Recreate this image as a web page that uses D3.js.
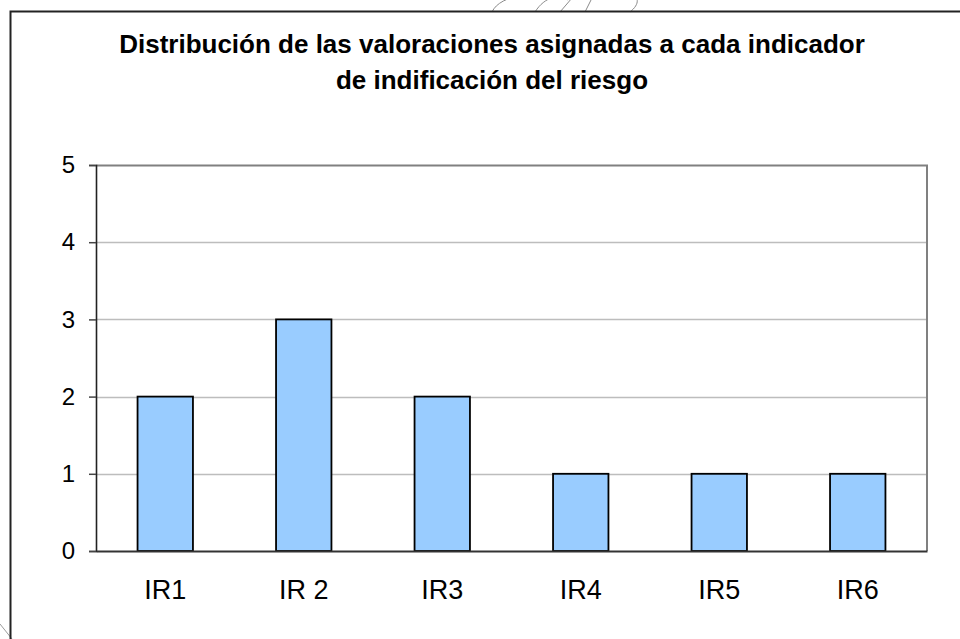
<!DOCTYPE html>
<html>
<head>
<meta charset="utf-8">
<script src="https://cdn.jsdelivr.net/npm/d3@7"></script>
<style>
  body { margin: 0; background: #fff; }
  svg { display: block; font-family: Arial, "Liberation Sans", sans-serif; }
</style>
</head>
<body>
<div id="chart"></div>
<script>
// data
const categories = ['IR1', 'IR 2', 'IR3', 'IR4', 'IR5', 'IR6'];
const values = [2, 3, 2, 1, 1, 1];
const yTicks = [0, 1, 2, 3, 4, 5];
const titleLines = [
  'Distribución de las valoraciones asignadas a cada indicador',
  'de indificación del riesgo'
];

const width = 960, height = 639;
const margin = {top: 165, right: 33, bottom: 88, left: 96};

const svg = d3.select('#chart')
  .append('svg')
  .attr('width', width)
  .attr('height', height);

// faint scribble at the top, part of the scanned page
const scrib = svg.append('g')
  .attr('fill', 'none')
  .attr('stroke', '#8a8a8a')
  .attr('stroke-width', 1);
scrib.append('path').attr('d', 'M492,12 C500,-6 540,-10 560,-2');
scrib.append('path').attr('d', 'M535,12 C545,-4 560,-6 568,0');
scrib.append('path').attr('d', 'M560,12 L572,-2');
scrib.append('path').attr('d', 'M585,12 L592,-2');
scrib.append('path').attr('d', 'M630,12 C640,4 640,-4 628,-8');
svg.append('path')
  .attr('d', 'M0,624 L12,639')
  .attr('stroke', '#9a9a9a')
  .attr('fill', 'none');

// outer frame (runs off right and bottom)
svg.append('path')
  .attr('d', `M10.5,${height + 2} L10.5,11.5 L${width + 2},11.5`)
  .attr('fill', 'none')
  .attr('stroke', '#222')
  .attr('stroke-width', 2);

// title
svg.append('text')
  .attr('text-anchor', 'middle')
  .attr('font-weight', 'bold')
  .attr('font-size', 26)
  .attr('fill', '#000')
  .selectAll('tspan')
  .data(titleLines)
  .join('tspan')
  .attr('x', 492)
  .attr('y', (d, i) => 53 + i * 36)
  .text(d => d);

const x = d3.scaleBand()
  .domain(categories)
  .range([margin.left, width - margin.right])
  .paddingInner(0.6)
  .paddingOuter(0.3);

const y = d3.scaleLinear()
  .domain([0, 5])
  .range([height - margin.bottom, margin.top]);

// gridlines
svg.append('g')
  .selectAll('line')
  .data(yTicks.filter(d => d > 0 && d < 5))
  .join('line')
  .attr('x1', margin.left)
  .attr('x2', width - margin.right)
  .attr('y1', d => Math.round(y(d)) + 0.5)
  .attr('y2', d => Math.round(y(d)) + 0.5)
  .attr('stroke', '#bdbdbd')
  .attr('stroke-width', 1.6);

// plot area top/right border
svg.append('path')
  .attr('d', `M${margin.left},${Math.round(y(5)) + 0.5} L${width - margin.right},${Math.round(y(5)) + 0.5} L${width - margin.right},${y(0)}`)
  .attr('fill', 'none')
  .attr('stroke', '#808080')
  .attr('stroke-width', 2);

// bars
svg.append('g')
  .selectAll('rect')
  .data(values)
  .join('rect')
  .attr('x', (d, i) => x(categories[i]))
  .attr('y', d => y(d))
  .attr('width', x.bandwidth())
  .attr('height', d => y(0) - y(d))
  .attr('fill', '#99ccff')
  .attr('stroke', '#000')
  .attr('stroke-width', 1.8);

// y axis
const yAxis = svg.append('g')
  .attr('transform', `translate(${margin.left},0)`)
  .call(d3.axisLeft(y).tickValues(yTicks).tickFormat(d3.format('d')).tickSize(7).tickPadding(14));
yAxis.select('.domain').attr('stroke', '#222').attr('stroke-width', 1.6);
yAxis.selectAll('.tick line').attr('stroke', '#444').attr('stroke-width', 1.5);
yAxis.selectAll('.tick text')
  .attr('font-size', 24)
  .attr('font-family', 'Arial, "Liberation Sans", sans-serif')
  .attr('fill', '#000');

// x axis
const xAxis = svg.append('g')
  .attr('transform', `translate(0,${y(0)})`)
  .call(d3.axisBottom(x).tickSize(0).tickPadding(29));
xAxis.select('.domain').attr('stroke', '#333').attr('stroke-width', 1.8);
xAxis.selectAll('.tick text')
  .attr('font-size', 27)
  .attr('font-family', 'Arial, "Liberation Sans", sans-serif')
  .attr('fill', '#000');
</script>
</body>
</html>
